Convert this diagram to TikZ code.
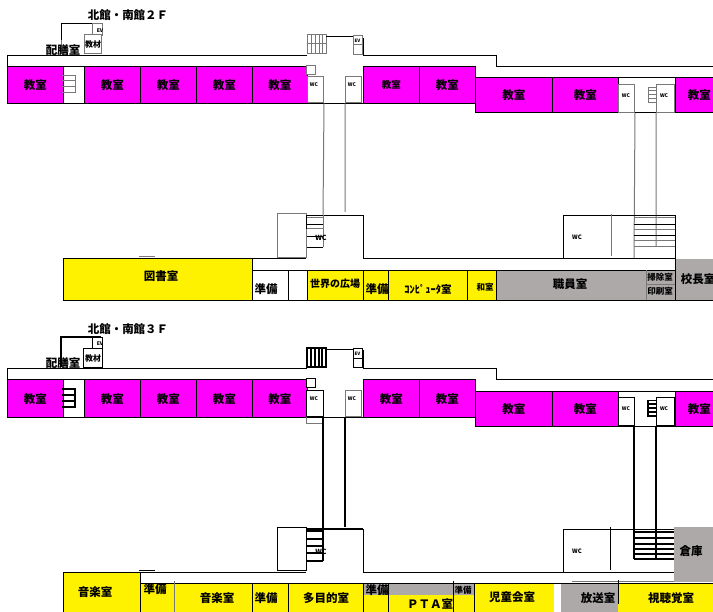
\documentclass[tikz,border=0pt]{standalone}
\usepackage{fontspec}
\setmainfont{Noto Sans CJK JP}
\usepackage{tikz}
\usetikzlibrary{positioning}
\definecolor{classpink}{RGB}{255,0,255}
\definecolor{roomgray}{RGB}{173,169,169}
\definecolor{wallgray}{RGB}{120,120,120}

\tikzset{
  room/.style={draw, line width=0.8pt, anchor=north west, inner sep=0pt, font=\bfseries\fontsize{11.5}{11.5}\selectfont},
  classroom/.style={room, fill=classpink},
  yellowroom/.style={room, fill=yellow},
  grayroom/.style={room, fill=roomgray},
  whiteroom/.style={room, fill=white},
  wcbox/.style={draw=wallgray, line width=1pt, fill=white, anchor=north west, inner sep=0pt, font=\bfseries\fontsize{8}{8}\selectfont},
  wcboxb/.style={wcbox, draw=black, line width=1.1pt},
  lbl/.style={inner sep=0pt, font=\bfseries\fontsize{11.5}{11.5}\selectfont},
  lblsmall/.style={inner sep=0pt, font=\bfseries\fontsize{8.5}{8.5}\selectfont},
  lbltiny/.style={inner sep=0pt, font=\bfseries\fontsize{5}{5}\selectfont},
  wall/.style={line width=0.8pt},
  graywall/.style={draw=wallgray, line width=1pt},
  blackwall/.style={line width=1.1pt},
}

\begin{document}
\begin{tikzpicture}[x=1pt,y=-1pt]
  \useasboundingbox (0,0) rectangle (713,612);

  % 2F north wing
  \node (title2) [lbl] at (128,15) {北館・南館２Ｆ};
  \draw[wall] (61,40) |- (101,23);
  \draw[graywall] (61,40) -- (61,54);
  \node (ev2) [wcbox, minimum width=10pt, minimum height=12pt] at (92,23) {};
  \node (evtext2) [lbltiny] at (100,30.5) {EV};
  \node (kyozai2) [wcbox, minimum width=17pt, minimum height=19pt] at (84,34) {教材};
  \node (haizen2) [lbl] at (63,50) {配膳室};
  \draw[wall] (7,67) |- (307,55);
  \draw[wall] (363,44) |- (496,55) |- (713,66);
  \draw[wall] (363,38) -- (363,55);
  \node (c21) [classroom, minimum width=56pt, minimum height=37pt] at (7,66.5) {教室};
  \node (s21) [whiteroom, minimum width=21pt, minimum height=37pt] at (63,66.5) {};
  \node (c22) [classroom, minimum width=56pt, minimum height=37pt] at (84,66.5) {教室};
  \node (c23) [classroom, minimum width=56pt, minimum height=37pt] at (140,66.5) {教室};
  \node (c24) [classroom, minimum width=56pt, minimum height=37pt] at (196,66.5) {教室};
  \node (c25) [classroom, minimum width=55pt, minimum height=37pt] at (252,66.5) {教室};
  \draw[graywall] (62,75.5) -| (75,93) -- (62,93) (62,81) -- (75,81) (62,87) -- (75,87);
  \draw[graywall] (307,35) -- (326,35) -- (326,54) -- (307,54) -- cycle (311,35) -- (311,54) (315,35) -- (315,54) (319,35) -- (319,54) (322,35) -- (322,54) (307,44) -- (326,44);
  \draw[wall] (326,36) -- (353,36);
  \node (ev2b) [wcbox, minimum width=9pt, minimum height=19pt] at (353,35) {};
  \draw[graywall] (ev2b.west) -- (ev2b.east);
  \node (ev2btext) [lbltiny, font=\bfseries\fontsize{4.5}{5}\selectfont] at (357.5,41) {EV};
  \node (sq2) [wcbox, minimum width=9pt, minimum height=9pt] at (306,65) {};
  \node (wc21) [wcbox, minimum width=16pt, minimum height=26pt] at (307,76.5) {};
  \node (wc21t) [lbltiny] at (314,85) {WC};
  \node (wc22) [wcbox, minimum width=16pt, minimum height=26pt] at (345,76.5) {};
  \node (wc22t) [lbltiny] at (352,85) {WC};
  \draw[wall] (307,103) -- (363,103);
  \node (c26) [classroom, minimum width=56pt, minimum height=37pt, font=\bfseries\fontsize{9.5}{9.5}\selectfont] at (363,66.5) {教室};
  \node (c27) [classroom, minimum width=56pt, minimum height=37pt] at (419,66.5) {教室};
  \node (c28) [classroom, minimum width=77pt, minimum height=35pt] at (475,77.5) {教室};
  \node (c29) [classroom, minimum width=66pt, minimum height=35pt] at (552,77.5) {教室};
  \node (s22) [whiteroom, minimum width=57pt, minimum height=35pt] at (618,77.5) {};
  \node (wc23) [wcbox, minimum width=16pt, minimum height=28pt] at (618,84) {};
  \node (wc23t) [lbltiny] at (626,96) {WC};
  \node (wc24) [wcbox, minimum width=18pt, minimum height=28pt] at (656,84) {};
  \node (wc24t) [lbltiny] at (664,96) {WC};
  \draw[graywall] (656,87.5) -| (648,103) -- (656,103) (648,91) -- (656,91) (648,95) -- (656,95) (648,99) -- (656,99);
  \node (c2a) [classroom, minimum width=48pt, minimum height=35pt] at (675,77.5) {教室};
  \draw[graywall] (wc21.south east) -- (323,215) (wc22.south west) -- (345,212);
  \draw[graywall] (wc23.south east) -- (634,258) (wc24.south west) -- (656,247);

  % 2F south wing
  \node (wc25) [wcbox, minimum width=29pt, minimum height=44pt] at (277,213) {};
  \draw[wall] (306,215) -- (363,215) -- (363,258);
  \draw[wall] (307,224) -- (323,224) (307,236) -- (323,236) (307,247) -- (323,247);
  \draw[graywall] (307,218) -- (323,218) (307,229) -- (323,229) (323,215) -- (323,247);
  \draw[wall] (306,215) -- (306,229);
  \node (wc25t) [lbltiny, font=\bfseries\fontsize{7}{7}\selectfont] at (321,238) {WC};
  \draw[graywall] (139,257) -- (155,257);
  \draw[wall] (252,258) -- (306,258) (363,258) -- (675,258);
  \draw[wall] (563,258) |- (675,215) -- (675,258);
  \node (wc26t) [lbltiny, font=\bfseries\fontsize{6}{6}\selectfont] at (577,237) {WC};
  \draw[graywall] (611,214) -- (611,256);
  \draw[graywall] (634,218) -- (675,218) (634,230) -- (675,230) (634,241) -- (675,241) (634,247) -- (675,247);
  \draw[wall] (634,224) -- (675,224) (634,235) -- (675,235);
  \node (tosho) [yellowroom, minimum width=189pt, minimum height=42pt] at (63,258.5) {};
  \node (toshot) [lbl] at (161,276) {図書室};
  \node (jun21) [whiteroom, minimum width=36pt, minimum height=30pt] at (252,270) {};
  \node (jun21t) [lbl] at (266,289) {準備};
  \node (hall2) [whiteroom, minimum width=19pt, minimum height=30pt] at (288,270) {};
  \node (sekai) [yellowroom, minimum width=56pt, minimum height=30pt] at (307,270) {};
  \node (sekait) [lblsmall, font=\bfseries\fontsize{10}{10}\selectfont] at (335,284) {世界の広場};
  \node (jun22) [yellowroom, minimum width=25pt, minimum height=30pt] at (363,270) {};
  \node (jun22t) [lbl] at (377,289) {準備};
  \node (comp) [yellowroom, minimum width=79pt, minimum height=30pt] at (388,270) {};
  \node (compt) [lblsmall, font=\bfseries\fontsize{10.5}{10.5}\selectfont] at (428,289) {ｺﾝﾋﾟｭｰﾀ室};
  \node (wa) [yellowroom, minimum width=29pt, minimum height=30pt] at (467,270) {};
  \node (wat) [lblsmall] at (485,287) {和室};
  \node (shoku) [grayroom, minimum width=179pt, minimum height=30pt] at (496,270) {};
  \node (shokut) [lbl] at (570,284) {職員室};
  \draw[graywall] (646,270) -- (646,300) (646,285) -- (675,285);
  \node (souji) [lblsmall] at (660,277) {掃除室};
  \node (insatsu) [lblsmall] at (660,291.5) {印刷室};
  \node (kocho) [grayroom, draw=none, minimum width=38pt, minimum height=42pt] at (675,258.5) {};
  \node (kochot) [lbl] at (698,279) {校長室};
  \draw[wall] (675,258) -- (675,300) (63,300) -- (713,300);

  % 3F north wing
  \node (title3) [lbl] at (128,329) {北館・南館３Ｆ};
  \draw[blackwall] (61,355) |- (101,337);
  \draw[blackwall] (61,355) -- (61,367);
  \node (ev3) [wcboxb, minimum width=10pt, minimum height=11pt] at (92,337) {};
  \node (evtext3) [lbltiny] at (100,344) {EV};
  \node (kyozai3) [wcboxb, minimum width=19pt, minimum height=19pt] at (83,348) {教材};
  \node (haizen3) [lbl] at (63,363) {配膳室};
  \draw[wall] (7,379) |- (307,368);
  \draw[wall] (363,360) |- (496,368) |- (713,379);
  \draw[wall] (363,350) -- (363,368);
  \node (c31) [classroom, minimum width=56pt, minimum height=38pt] at (7,379.5) {教室};
  \node (s31) [whiteroom, minimum width=21pt, minimum height=38pt] at (63,379.5) {};
  \node (c32) [classroom, minimum width=56pt, minimum height=38pt] at (84,379.5) {教室};
  \node (c33) [classroom, minimum width=56pt, minimum height=38pt] at (140,379.5) {教室};
  \node (c34) [classroom, minimum width=56pt, minimum height=38pt] at (196,379.5) {教室};
  \node (c35) [classroom, minimum width=55pt, minimum height=38pt] at (252,379.5) {教室};
  \draw[blackwall] (62,389) -| (75,407) -- (62,407) (62,395) -- (75,395) (62,401) -- (75,401);
  \draw[blackwall] (307,348) -- (326,348) -- (326,367) -- (307,367) -- cycle (311,348) -- (311,367) (315,348) -- (315,367) (319,348) -- (319,367) (322,348) -- (322,367);
  \draw[wall] (326,349) -- (353,349);
  \node (ev3b) [wcboxb, minimum width=9pt, minimum height=19pt] at (353,348) {};
  \draw[wall] (ev3b.west) -- (ev3b.east);
  \node (ev3btext) [lbltiny, font=\bfseries\fontsize{4.5}{5}\selectfont] at (357.5,354) {EV};
  \node (sq3) [wcboxb, minimum width=9pt, minimum height=9pt] at (306,378) {};
  \node (wc31) [wcboxb, minimum width=17pt, minimum height=26pt] at (306,390) {};
  \node (wc31t) [lbltiny] at (314,399) {WC};
  \node (wc32) [wcbox, minimum width=16pt, minimum height=26pt] at (345,390) {};
  \node (wc32t) [lbltiny] at (352,399) {WC};
  \draw[wall] (307,417) -- (363,417);
  \draw[graywall] (306,417) |- (323,424);
  \node (c36) [classroom, minimum width=56pt, minimum height=38pt] at (363,379.5) {教室};
  \node (c37) [classroom, minimum width=56pt, minimum height=38pt] at (419,379.5) {教室};
  \node (c38) [classroom, minimum width=77pt, minimum height=35pt] at (475,391) {教室};
  \node (c39) [classroom, minimum width=66pt, minimum height=35pt] at (552,391) {教室};
  \node (s32) [whiteroom, minimum width=57pt, minimum height=35pt] at (618,391) {};
  \node (wc33) [wcboxb, minimum width=16pt, minimum height=28pt] at (618,397) {};
  \node (wc33t) [lbltiny] at (626,409) {WC};
  \node (wc34) [wcboxb, minimum width=18pt, minimum height=28pt] at (656,397) {};
  \node (wc34t) [lbltiny] at (664,409) {WC};
  \draw[blackwall] (656,400.5) -| (648,416) -- (656,416) (648,404) -- (656,404) (648,408) -- (656,408) (648,412) -- (656,412);
  \node (c3a) [classroom, minimum width=48pt, minimum height=35pt] at (675,391) {教室};
  \draw[blackwall] (323,417) -- (323,529) (345,417) -- (345,527);
  \draw[blackwall] (634,426) -- (634,559) (656,426) -- (656,559);

  % 3F south wing
  \node (wc35) [wcboxb, minimum width=29pt, minimum height=43pt] at (277,527) {};
  \draw[blackwall] (306,529) -- (363,529);
  \draw[wall] (363,529) -- (363,572);
  \draw[blackwall] (307,531) -- (323,531) (307,539) -- (323,539) (307,546) -- (323,546) (307,553) -- (323,553) (307,561) -- (323,561) (323,529) -- (323,561);
  \node (wc35t) [lbltiny, font=\bfseries\fontsize{7}{7}\selectfont] at (321,552) {WC};
  \draw[wall] (139,570) -- (155,570);
  \draw[wall] (140,572) -- (306,572) (363,572) -- (675,572);
  \draw[wall] (563,572) |- (675,529);
  \node (wc36t) [lbltiny, font=\bfseries\fontsize{6}{6}\selectfont] at (577,551) {WC};
  \draw[wall] (610,527) -- (610,570);
  \draw[blackwall] (634,532) -- (675,532) (634,538) -- (675,538) (634,544) -- (675,544) (634,549) -- (675,549) (634,554) -- (675,554) (634,559) -- (675,559);
  \draw[graywall] (572,581) -- (674,581);
  \node (souko) [grayroom, draw=none, minimum width=39pt, minimum height=55pt] at (674,527) {};
  \node (soukot) [lbl] at (691,551) {倉庫};
  \draw[wall] (140,583) -- (713,583);
  \node (ongaku1) [yellowroom, minimum width=77pt, minimum height=41pt] at (63,572) {};
  \node (ongaku1t) [lbl] at (95,592) {音楽室};
  \node (jun31) [yellowroom, minimum width=34pt, minimum height=30pt] at (140,583) {};
  \node (jun31t) [lbl] at (155,589) {準備};
  \node (ongaku2) [yellowroom, draw=none, minimum width=78pt, minimum height=29pt] at (174,584) {};
  \node (ongaku2t) [lbl] at (217,598) {音楽室};
  \draw[graywall] (174,581) -- (174,612);
  \node (jun32) [yellowroom, minimum width=36pt, minimum height=30pt] at (252,583) {};
  \node (jun32t) [lbl] at (266,598) {準備};
  \node (tamoku) [yellowroom, minimum width=75pt, minimum height=30pt] at (288,583) {};
  \node (tamokut) [lbl] at (326,598) {多目的室};
  \node (jun33) [yellowroom, minimum width=25pt, minimum height=30pt] at (363,583) {};
  \node (pta) [yellowroom, minimum width=86pt, minimum height=30pt] at (388,583) {};
  \fill[roomgray] (363.5,583.5) rectangle (473.5,595);
  \draw[wall] (388,583) -- (388,612) (453,581) -- (453,612);
  \node (jun33t) [lbl] at (377,590) {準備};
  \node (ptat) [lbl] at (430,604) {ＰＴＡ室};
  \node (jun34t) [lblsmall] at (463,590) {準備};
  \node (jido) [yellowroom, draw=none, minimum width=79pt, minimum height=29pt] at (474.5,584) {};
  \node (jidot) [lbl] at (512,597) {児童会室};
  \draw[wall] (474,583) -- (474,612);
  \node (hoso) [grayroom, draw=none, minimum width=57pt, minimum height=29pt] at (561,584) {};
  \node (hosot) [lbl] at (598,598) {放送室};
  \node (shicho) [yellowroom, draw=none, minimum width=95pt, minimum height=29pt] at (618,584) {};
  \node (shichot) [lbl] at (671,598) {視聴覚室};
  \draw[wall] (618,580) -- (618,604);
\end{tikzpicture}
\end{document}
